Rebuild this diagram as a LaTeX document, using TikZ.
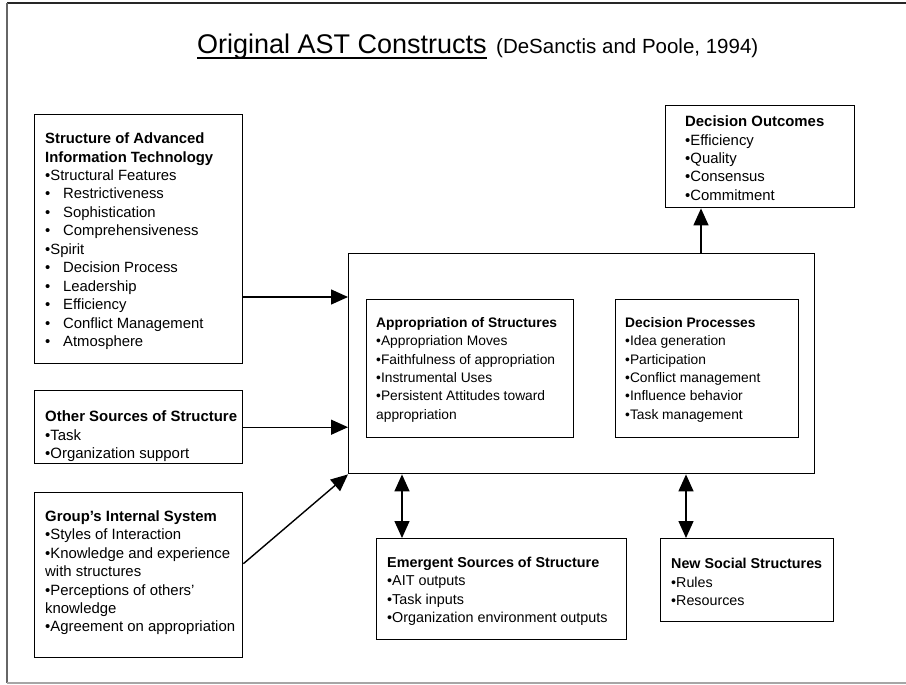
\documentclass[tikz,border=0pt]{standalone}
\usepackage{fontspec}
\setmainfont{Liberation Sans}
\usetikzlibrary{arrows.meta}
\newcommand\sbul{\makebox[18pt][l]{•}}
\newcommand\hd[1]{{\bfseries #1}}
\begin{document}
\begin{tikzpicture}[x=1pt,y=-1pt,
  box/.style={draw=black, line width=1.4pt, rectangle, anchor=north west, inner sep=0pt},
  txt/.style={anchor=west, align=left, inner sep=0pt, font=\fontsize{#1}{18.45}\selectfont},
  arr/.style={line width=1.4pt, -{Triangle[length=17pt,width=15pt]}},
  arrb/.style={line width=1.4pt, {Triangle[length=17pt,width=15pt]}-{Triangle[length=17pt,width=15pt]}},
]
\useasboundingbox (0,0) rectangle (906,685);
% page frame
\draw[line width=1.8pt, black!85] (7,3) -- (906,3);
\draw[line width=1.2pt, black!60] (7,3) -- (7,683);
\draw[line width=1.2pt, black!35] (7,683) -- (906,683);

% title
\node[anchor=base west, inner sep=0pt, font=\fontsize{27}{30}\selectfont] (t1) at (197,54) {Original AST Constructs};
\node[anchor=base west, inner sep=0pt, font=\fontsize{20.5}{24}\selectfont] (t2) at ([xshift=9pt]t1.base east) {(DeSanctis and Poole, 1994)};
\draw[line width=1.4pt] ([yshift=-4pt]t1.base west) -- ([yshift=-4pt]t1.base east);

% boxes
\node[box, minimum width=208pt, minimum height=249pt] (sait) at (34,114) {};
\node[box, minimum width=208pt, minimum height=73pt] (oth) at (34,390) {};
\node[box, minimum width=208pt, minimum height=165pt] (grp) at (34,492) {};
\node[box, minimum width=466pt, minimum height=220pt] (main) at (348,253) {};
\node[box, minimum width=207pt, minimum height=138pt] (app) at (366,299) {};
\node[box, minimum width=183pt, minimum height=138pt] (dp) at (615,299) {};
\node[box, minimum width=189pt, minimum height=102pt] (out) at (665,105) {};
\node[box, minimum width=250pt, minimum height=101pt] (emg) at (376,538) {};
\node[box, minimum width=173pt, minimum height=83pt] (nss) at (660,538) {};

% texts
\node[txt=14.85] (saitT) at ([xshift=11pt, yshift=-2pt]sait.west) {\hd{Structure of Advanced}\\
\hd{Information Technology}\\
•Structural Features\\
\sbul Restrictiveness\\
\sbul Sophistication\\
\sbul Comprehensiveness\\
•Spirit\\
\sbul Decision Process\\
\sbul Leadership\\
\sbul Efficiency\\
\sbul Conflict Management\\
\sbul Atmosphere};
\node[txt=14.95] (othT) at ([xshift=11pt, yshift=-9pt]oth.west) {\hd{Other Sources of Structure}\\
•Task\\
•Organization support};
\node[txt=14.9] (grpT) at ([xshift=11pt, yshift=2.5pt]grp.west) {\hd{Group’s Internal System}\\
•Styles of Interaction\\
•Knowledge and experience\\
with structures\\
•Perceptions of others’\\
knowledge\\
•Agreement on appropriation};
\node[txt=13.8] (appT) at ([xshift=10pt, yshift=-1pt]app.west) {\hd{Appropriation of Structures}\\
•Appropriation Moves\\
•Faithfulness of appropriation\\
•Instrumental Uses\\
•Persistent Attitudes toward\\
appropriation};
\node[txt=13.8] (dpT) at ([xshift=10pt, yshift=-1pt]dp.west) {\hd{Decision Processes}\\
•Idea generation\\
•Participation\\
•Conflict management\\
•Influence behavior\\
•Task management};
\node[txt=14.9] (outT) at ([xshift=20pt, yshift=-1.5pt]out.west) {\hd{Decision Outcomes}\\
•Efficiency\\
•Quality\\
•Consensus\\
•Commitment};
\node[txt=14.35] (emgT) at ([xshift=11pt, yshift=-2pt]emg.west) {\hd{Emergent Sources of Structure}\\
•AIT outputs\\
•Task inputs\\
•Organization environment outputs};
\node[txt=14.3] (nssT) at ([xshift=11pt, yshift=-2pt]nss.west) {\hd{New Social Structures}\\
•Rules\\
•Resources};

% connectors
\draw[arr] (sait.east |- 0,297) -- (main.west |- 0,297);
\draw[arr] (oth.east) -- (oth.east -| main.west);
\draw[arr] ([yshift=11.5pt]grp.east) -- (main.south west);
\draw[arr] (main.north -| 701,0) -- (out.south -| 701,0);
\draw[arrb] (main.south -| 402,0) -- (emg.north -| 402,0);
\draw[arrb] (main.south -| 686,0) -- (nss.north -| 686,0);
\end{tikzpicture}
\end{document}
